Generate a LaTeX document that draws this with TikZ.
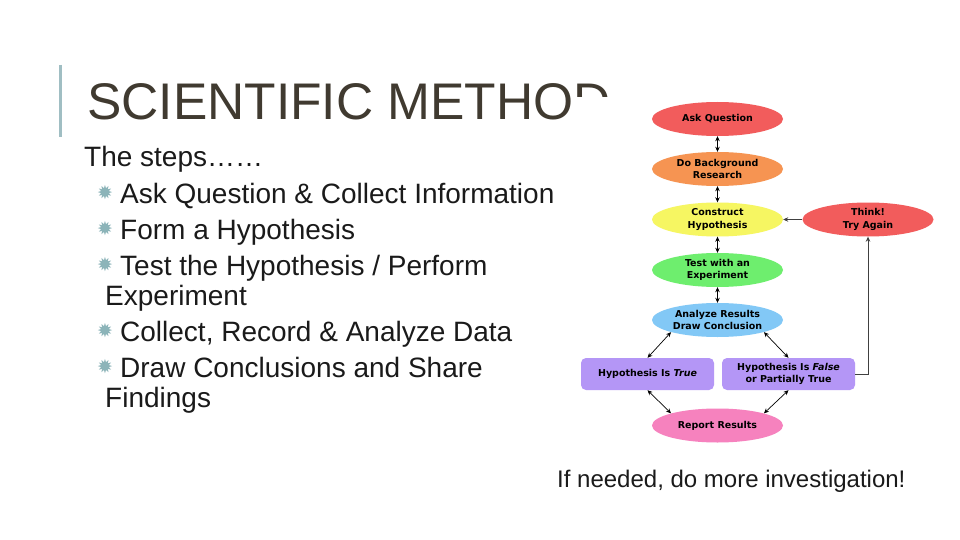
\documentclass[tikz,border=0pt]{standalone}
\usepackage{fontspec}
\setmainfont{Liberation Sans}
\newfontfamily\boxfont{DejaVu Sans}
\newfontfamily\symfont{DejaVu Sans}
\usetikzlibrary{shapes.geometric,arrows.meta}
\definecolor{titlecol}{RGB}{64,58,48}
\definecolor{bodycol}{RGB}{26,26,26}
\definecolor{barcol}{RGB}{160,190,195}
\definecolor{bulcol}{RGB}{140,180,185}
\definecolor{cred}{RGB}{242,92,92}
\definecolor{corange}{RGB}{246,148,82}
\definecolor{cyellow}{RGB}{246,246,98}
\definecolor{cgreen}{RGB}{110,238,110}
\definecolor{cblue}{RGB}{130,200,246}
\definecolor{cpurple}{RGB}{180,150,246}
\definecolor{cpink}{RGB}{246,130,190}
\begin{document}
\begin{tikzpicture}[x=1pt,y=-1pt,
  body/.style={anchor=base west,inner sep=0pt,text=bodycol,font=\fontsize{28}{28}\selectfont},
  bul/.style={inner sep=0pt,text=bulcol,font=\symfont\fontsize{19}{19}\selectfont},
  oval/.style={ellipse,minimum width=131pt,minimum height=34pt,inner sep=0pt,align=center,
    font=\boxfont\bfseries\fontsize{9.5}{12.5}\selectfont,text=black},
  rbox/.style={rounded corners=5pt,fill=cpurple,minimum width=133pt,minimum height=32pt,inner sep=0pt,align=center,
    font=\boxfont\bfseries\fontsize{9.5}{12.5}\selectfont,text=black},
  arr/.style={{Stealth[length=5pt,width=4.5pt]}-{Stealth[length=5pt,width=4.5pt]},line width=0.7pt,black},
  sarr/.style={-{Stealth[length=5pt,width=4.5pt]},line width=0.7pt,black!75}]
\useasboundingbox[fill=white] (0,0) rectangle (960,540);
% left bar
\draw[barcol,line width=3pt] (60,65) -- (60,137);
% title
\node[anchor=base west,inner sep=0pt,text=titlecol,font=\fontsize{51.5}{51.5}\selectfont] (title) at (87,120) {SCIENTIFIC METHOD};
% flowchart image background hides the end of the title
\fill[white] (576,97) rectangle (950,455);
\fill[white] (610,60) rectangle (950,97);
% body text
\node[body] (steps) at (84,167) {The steps……};
\node[bul] (b1) at (105,193) {✹};
\node[body] (t1) at (120,203) {Ask Question \& Collect Information};
\node[bul] (b2) at (105,229) {✹};
\node[body] (t2) at (120,239) {Form a Hypothesis};
\node[bul] (b3) at (105,265) {✹};
\node[body] (t3) at (120,275) {Test the Hypothesis / Perform};
\node[body] (t3b) at (105,305) {Experiment};
\node[bul] (b4) at (105,331) {✹};
\node[body] (t4) at (120,341) {Collect, Record \& Analyze Data};
\node[bul] (b5) at (105,367) {✹};
\node[body] (t5) at (120,377) {Draw Conclusions and Share};
\node[body] (t5b) at (105,407) {Findings};
% flowchart
\node[oval,fill=cred] (ask) at (717.5,119) {Ask Question};
\node[oval,fill=corange] (bg) at (717.5,169) {Do Background\\Research};
\node[oval,fill=cyellow] (con) at (717.5,219.5) {Construct\\Hypothesis};
\node[oval,fill=cgreen] (test) at (717.5,270) {Test with an\\Experiment};
\node[oval,fill=cblue] (ana) at (717.5,320) {Analyze Results\\Draw Conclusion};
\node[oval,fill=cred] (think) at (868,219.5) {Think!\\Try Again};
\node[rbox] (true) at (647.5,374) {Hypothesis Is \textit{True}};
\node[rbox] (false) at (788.5,374) {Hypothesis Is \textit{False}\\or Partially True};
\node[oval,fill=cpink] (rep) at (717.5,425.5) {Report Results};
\draw[arr] (ask) -- (bg);
\draw[arr] (bg) -- (con);
\draw[arr] (con) -- (test);
\draw[arr] (test) -- (ana);
\draw[arr] (ana.south west) -- (true.north);
\draw[arr] (ana.south east) -- (false.north);
\draw[arr] (true.south) -- (rep.north west);
\draw[arr] (false.south) -- (rep.north east);
\draw[sarr] (think.west) -- (con.east);
\draw[sarr] (false.east) -- (false.east -| think.south) -- (think.south);
% note
\node[anchor=base west,inner sep=0pt,text=bodycol,font=\fontsize{24}{24}\selectfont] (note) at (557,487) {If needed, do more investigation!};
\end{tikzpicture}
\end{document}
